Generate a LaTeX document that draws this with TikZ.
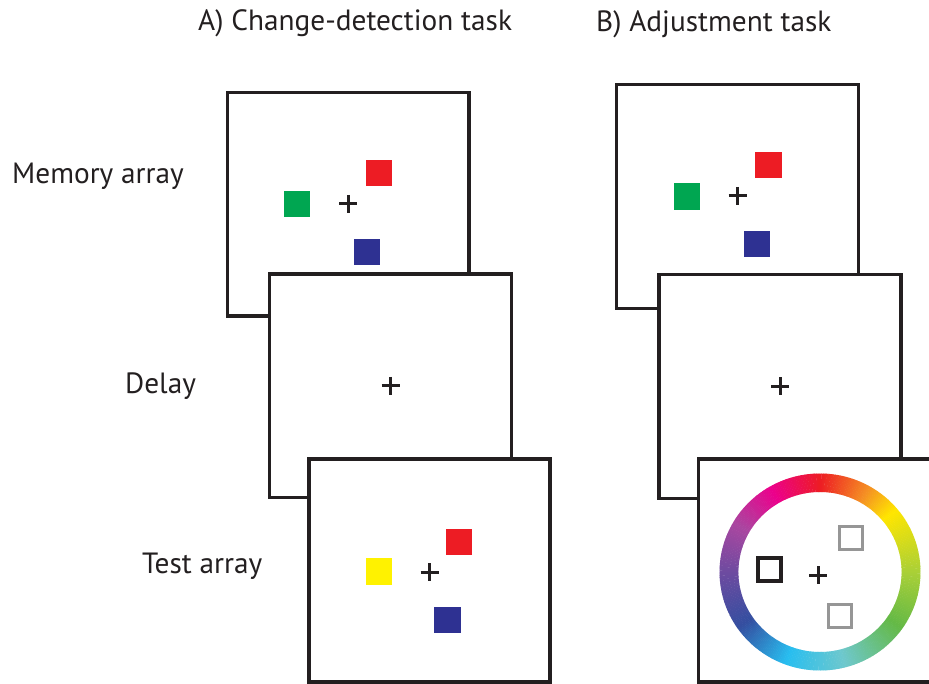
\documentclass[tikz,border=0pt]{standalone}
\usepackage{fontspec}
\setmainfont{PT Sans}
\definecolor{ink}{RGB}{35,31,32}
\definecolor{sqred}{RGB}{237,28,36}
\definecolor{sqgreen}{RGB}{0,166,81}
\definecolor{sqblue}{RGB}{46,49,146}
\definecolor{sqyellow}{RGB}{255,242,0}
\definecolor{probegray}{RGB}{150,150,150}
% hue stops of the colour wheel
\definecolor{wR}{RGB}{237,28,36}
\definecolor{wM}{RGB}{236,0,140}
\definecolor{wP}{RGB}{170,70,160}
\definecolor{wI}{RGB}{110,75,160}
\definecolor{wB}{RGB}{52,78,160}
\definecolor{wC}{RGB}{40,190,240}
\definecolor{wT}{RGB}{110,200,205}
\definecolor{wG}{RGB}{100,185,70}
\definecolor{wYG}{RGB}{170,208,55}
\definecolor{wY}{RGB}{255,230,0}
\definecolor{wO}{RGB}{245,145,35}
\begin{document}
\begin{tikzpicture}[x=1pt,y=-1pt,
  screen/.style={draw=ink, line width=3.4pt, fill=white},
  patch/.style={minimum size=26.5pt, inner sep=0pt, outer sep=0pt},
  outline/.style={minimum size=23pt, inner sep=0pt, outer sep=0pt},
  lab/.style={font=\fontsize{29.3}{35}\selectfont, text=ink, anchor=base west, inner sep=0pt},
  fixcross/.pic={\draw[ink, line width=3pt] (-9,0) -- (9,0) (0,-9) -- (0,9);}]
\useasboundingbox (0,0) rectangle (929,684);
\clip (0,0) rectangle (929,684);

% headings and row labels
\node[lab] (headA) at (198,31) {A) Change-detection task};
\node[lab] (headB) at (596,32) {B) Adjustment task};
\node[lab] (labMem) at (12,184) {Memory array};
\node[lab] (labDelay) at (125,394) {Delay};
\node[lab] (labTest) at (142,573) {Test array};

% ---- A: change detection ----
\draw[screen] (227.5,92.5) rectangle (469,316);
\node[patch, fill=sqred] (a1r) at (379,173) {};
\node[patch, fill=sqgreen] (a1g) at (297,204) {};
\node[patch, fill=sqblue] (a1b) at (367,252) {};
\pic at (348,204) {fixcross};

\draw[screen] (269.5,274) rectangle (511.5,497.5);
\pic at (390.5,386) {fixcross};

\draw[screen] (309,459) rectangle (550,682);
\node[patch, fill=sqred] (a3r) at (459,542) {};
\node[patch, fill=sqyellow] (a3y) at (379,571.5) {};
\node[patch, fill=sqblue] (a3b) at (447.5,620) {};
\pic at (429.5,572) {fixcross};

% ---- B: adjustment ----
\draw[screen] (616.7,84.3) rectangle (858.3,308.3);
\node[patch, fill=sqred] (b1r) at (768.5,165) {};
\node[patch, fill=sqgreen] (b1g) at (687,196.5) {};
\node[patch, fill=sqblue] (b1b) at (757,244) {};
\pic at (737.5,196) {fixcross};

\draw[screen] (659,274.3) rectangle (901,498.3);
\pic at (780,386.5) {fixcross};

\draw[screen] (698.5,459) rectangle (940,682);
% colour wheel
\begin{scope}[shift={(820,572)}, yscale=-1, xscale=1.02]
  \foreach \a/\b/\ca/\cb in {90/120/wR/wM, 120/150/wM/wP, 150/180/wP/wI,
      180/215/wI/wB, 215/250/wB/wC, 250/285/wC/wT, 285/325/wT/wG,
      325/360/wG/wYG, 360/400/wYG/wY, 400/420/wY/wO, 420/450/wO/wR}{
    \pgfmathtruncatemacro{\n}{\b-\a-1}
    \foreach \i in {0,...,\n}{
      \pgfmathsetmacro{\p}{100*(1-(\i+0.5)/(\b-\a))}
      \pgfmathsetmacro{\s}{\a+\i}
      \pgfmathsetmacro{\e}{\a+\i+1.25}
      \colorlet{seg}{\ca!\p!\cb}
      \fill[seg] (\s:98.5) arc[start angle=\s, end angle=\e, radius=98.5]
        -- (\e:80) arc[start angle=\e, end angle=\s, radius=80] -- cycle;
    }
  }
\end{scope}
\node[outline, draw=ink, line width=4pt] (probe) at (769.5,569) {};
\node[outline, draw=probegray, line width=3pt] (optA) at (851,538) {};
\node[outline, draw=probegray, line width=3pt] (optB) at (839.5,616) {};
\pic at (818,575) {fixcross};
\end{tikzpicture}
\end{document}
